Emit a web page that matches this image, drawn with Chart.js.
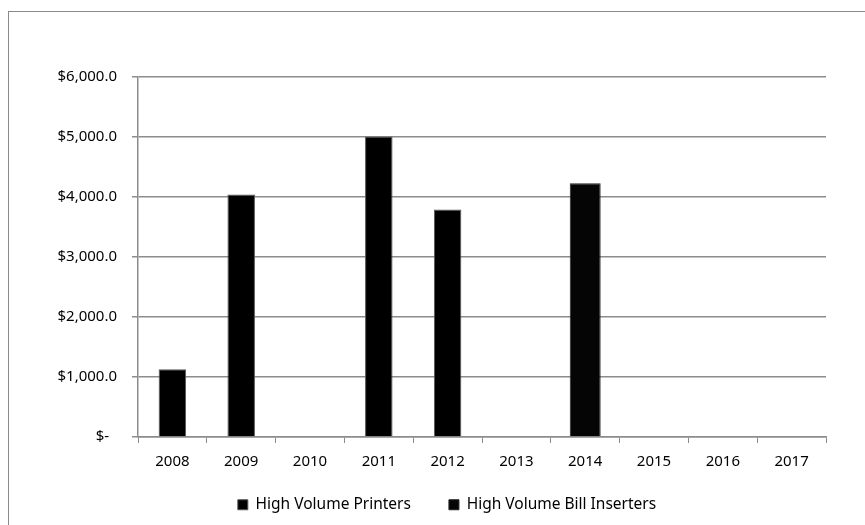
<!DOCTYPE html>
<html>
<head>
<meta charset="utf-8">
<script src="https://cdn.jsdelivr.net/npm/chart.js@4.4.1/dist/chart.umd.min.js"></script>
<style>
  html, body { margin: 0; padding: 0; background: #fff; overflow: hidden; }
  #wrap { position: relative; width: 865px; height: 525px; }
  #frame { position: absolute; left: 8px; top: 11px; width: 900px; height: 600px;
           border: 1px solid #8a8a8a; box-sizing: border-box; }
  canvas { position: absolute; left: 0; top: 0; }
</style>
</head>
<body>
<div id="wrap">
  <div id="frame"></div>
  <canvas id="c" width="865" height="525"></canvas>
</div>
<script>
// Annual spend by equipment type
const years = ['2008', '2009', '2010', '2011', '2012', '2013', '2014', '2015', '2016', '2017'];
const printers = [1130, 4040, 0, 5010, 3790, 0, 0, 0, 0, 0];
const billInserters = [0, 0, 0, 0, 0, 0, 4230, 0, 0, 0];
const yTickLabels = ['$-  ', '$1,000.0', '$2,000.0', '$3,000.0', '$4,000.0', '$5,000.0', '$6,000.0'];

const FAMILY = '"Noto Sans", "Open Sans", sans-serif';
const FONT = { family: FAMILY, size: 15 };
const GRID = '#8c8c8c';

// The legend row sits a little right of the canvas centre, close under the axis labels.
const legendPlacement = {
  id: 'legendPlacement',
  afterLayout(chart) {
    const lg = chart.legend;
    if (!lg) return;
    lg.left = 68;
    lg.top = 459;
    lg.bottom = chart.height;
    lg.height = lg.bottom - lg.top;
  }
};

new Chart(document.getElementById('c'), {
  type: 'bar',
  data: {
    labels: years,
    datasets: [
      {
        label: 'High Volume Printers',
        data: printers,
        backgroundColor: '#000',
        borderColor: '#555',
        borderWidth: 1,
        barPercentage: 0.4,
        categoryPercentage: 1
      },
      {
        label: 'High Volume Bill Inserters',
        data: billInserters,
        backgroundColor: '#050505',
        borderColor: '#222',
        borderWidth: 1,
        barPercentage: 0.45,
        categoryPercentage: 1
      }
    ]
  },
  plugins: [legendPlacement],
  options: {
    responsive: false,
    animation: false,
    layout: { padding: { left: 0, right: 39, top: 77, bottom: 4 } },
    plugins: {
      tooltip: { enabled: false },
      legend: {
        position: 'bottom',
        maxHeight: 50,
        labels: {
          color: '#000',
          font: { family: FAMILY, size: 15.5 },
          boxWidth: 10,
          boxHeight: 10,
          padding: 38
        }
      }
    },
    scales: {
      x: {
        stacked: true,
        afterFit: (s) => { s.height = 34; },
        grid: {
          offset: true,
          drawOnChartArea: false,
          drawTicks: true,
          tickLength: 6,
          color: GRID
        },
        border: { color: GRID, width: 1.5 },
        ticks: { color: '#000', font: FONT, padding: 10 }
      },
      y: {
        stacked: true,
        min: 0,
        max: 6000,
        afterFit: (s) => { s.width = 138; },
        grid: { color: GRID, lineWidth: 1.5, tickLength: 6 },
        border: { color: GRID, width: 1.5 },
        ticks: {
          stepSize: 1000,
          color: '#000',
          font: FONT,
          padding: 15,
          callback: (v) => yTickLabels[Math.round(v / 1000)]
        }
      }
    }
  }
});
</script>
</body>
</html>
